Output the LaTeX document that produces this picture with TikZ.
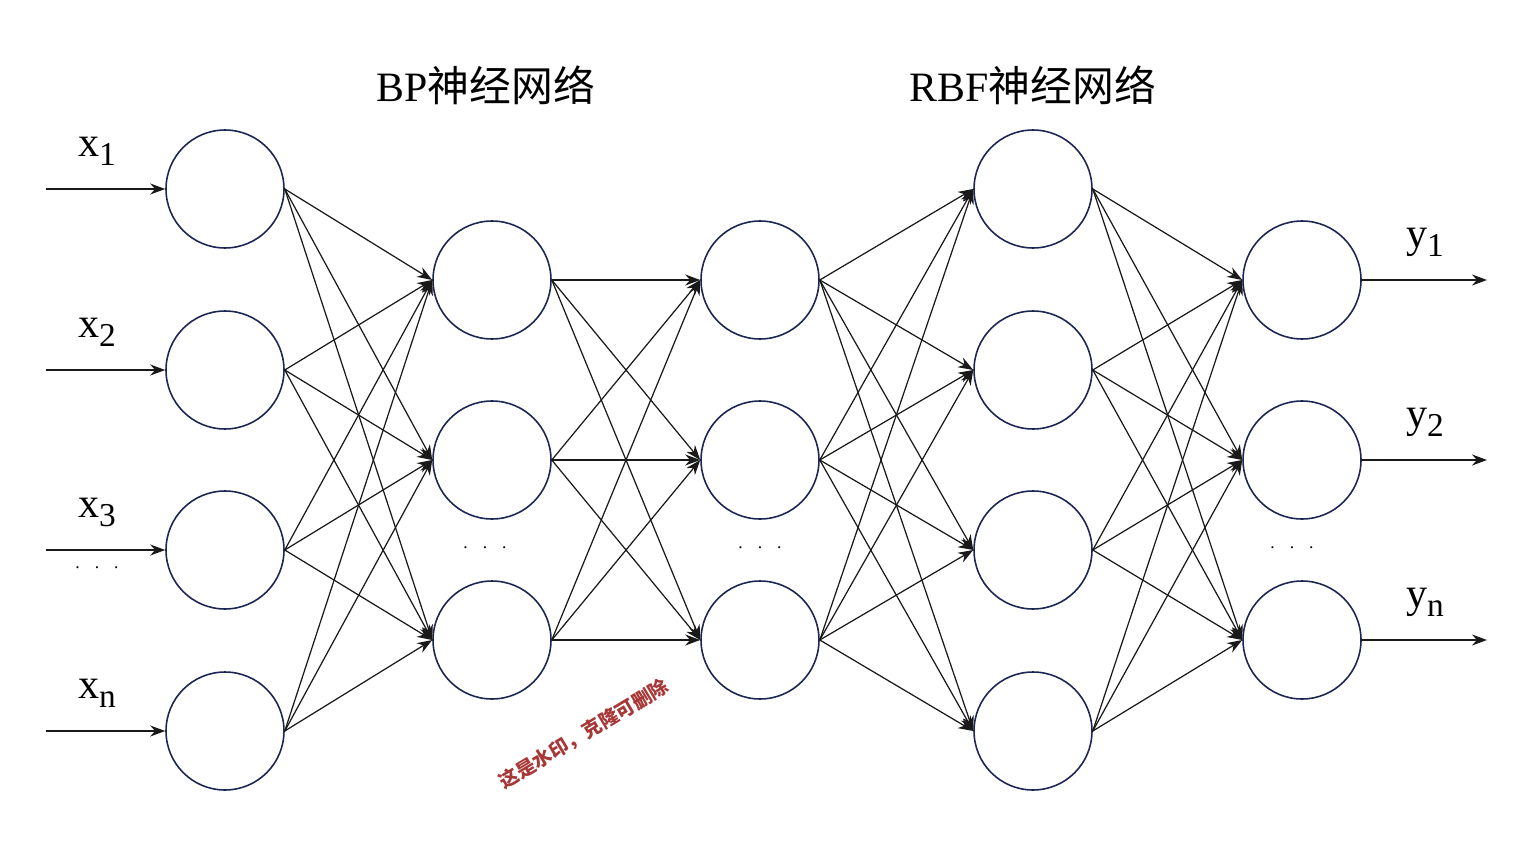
\documentclass[tikz,border=0pt]{standalone}
\usepackage{fontspec}
\setmainfont{Liberation Serif}
\newfontfamily\cjk{Noto Sans CJK SC}
\usetikzlibrary{arrows.meta, positioning}
\definecolor{ringblue}{HTML}{1B2652}
\definecolor{markred}{HTML}{A83838}
\tikzstyle{neuron} = [circle, minimum size=2.36cm, inner sep=0pt, draw=ringblue, line width=0.9pt, fill=white]
\tikzstyle{connector} = [line width=0.7pt, black!90, -{Stealth[length=0.3cm, width=0.22cm]}]
\tikzstyle{iolabel} = [inner sep=0pt, font=\fontsize{24}{24}\selectfont]
\tikzstyle{title} = [inner sep=0pt, font=\fontsize{23.8}{24}\selectfont]
\tikzstyle{dots} = [inner sep=0pt, font=\fontsize{10}{10}\selectfont]
\newcommand{\iovar}[2]{#1\raisebox{-0.18cm}{\fontsize{19}{19}\selectfont #2}}

\begin{document}
\begin{tikzpicture}[x=0.02cm, y=-0.02cm]
  \useasboundingbox (0,0) rectangle (1521,851);

  % Titles
  \node (bptitle) at (486,85) [title] {BP{\cjk 神经网络}};
  \node (rbftitle) at (1033,85) [title] {RBF{\cjk 神经网络}};

  % Input layer
  \node (a1) at (225,189) [neuron] {};
  \node (a2) at (225,370) [neuron] {};
  \node (a3) at (225,550) [neuron] {};
  \node (a4) at (225,731) [neuron] {};

  % BP hidden layer
  \node (b1) at (492,280) [neuron] {};
  \node (b2) at (492,460) [neuron] {};
  \node (b3) at (492,640) [neuron] {};

  % BP output / RBF input layer
  \node (c1) at (760,280) [neuron] {};
  \node (c2) at (760,460) [neuron] {};
  \node (c3) at (760,640) [neuron] {};

  % RBF hidden layer
  \node (d1) at (1033,189) [neuron] {};
  \node (d2) at (1033,370) [neuron] {};
  \node (d3) at (1033,550) [neuron] {};
  \node (d4) at (1033,731) [neuron] {};

  % Output layer
  \node (e1) at (1302,280) [neuron] {};
  \node (e2) at (1302,460) [neuron] {};
  \node (e3) at (1302,640) [neuron] {};

  % Inputs
  \coordinate (in1) at (46,189);
  \coordinate (in2) at (46,370);
  \coordinate (in3) at (46,550);
  \coordinate (in4) at (46,731);
  \node (x1) at (97,151) [iolabel] {\iovar{x}{1}};
  \node (x2) at (97,332) [iolabel] {\iovar{x}{2}};
  \node (x3) at (97,512) [iolabel] {\iovar{x}{3}};
  \node (xn) at (97,693) [iolabel] {\iovar{x}{n}};
  \foreach \i in {1,...,4}
    \draw[connector] (in\i) -- (a\i);

  % Outputs
  \coordinate (out1) at (1487,280);
  \coordinate (out2) at (1487,460);
  \coordinate (out3) at (1487,640);
  \node (y1) at (1425,242) [iolabel] {\iovar{y}{1}};
  \node (y2) at (1425,422) [iolabel] {\iovar{y}{2}};
  \node (yn) at (1425,602) [iolabel] {\iovar{y}{n}};
  \foreach \i in {1,2,3}
    \draw[connector] (e\i) -- (out\i);

  % Full connections between layers
  \foreach \i in {1,...,4}
    \foreach \j in {1,2,3}
      \draw[connector] (a\i.east) -- (b\j.west);
  \foreach \i in {1,2,3}
    \foreach \j in {1,2,3}
      \draw[connector] (b\i.east) -- (c\j.west);
  \foreach \i in {1,2,3}
    \foreach \j in {1,...,4}
      \draw[connector] (c\i.east) -- (d\j.west);
  \foreach \i in {1,...,4}
    \foreach \j in {1,2,3}
      \draw[connector] (d\i.east) -- (e\j.west);

  % Ellipses
  \node (dotsx) at (97,568) [dots] {.\hspace{0.3cm}.\hspace{0.3cm}.};
  \node (dotsb) at (485,548) [dots] {.\hspace{0.3cm}.\hspace{0.3cm}.};
  \node (dotsc) at (760,548) [dots] {.\hspace{0.3cm}.\hspace{0.3cm}.};
  \node (dotse) at (1292,548) [dots] {.\hspace{0.3cm}.\hspace{0.3cm}.};

  % Watermark
  \node (mark) at (584,734) [rotate=31, text=markred, inner sep=0pt, font=\cjk\bfseries\fontsize{11}{11}\selectfont] {这是水印，克隆可删除};

\end{tikzpicture}
\end{document}
